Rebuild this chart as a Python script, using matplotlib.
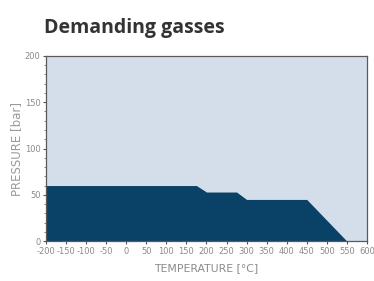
import matplotlib
matplotlib.use("Agg")
import matplotlib.pyplot as plt
from matplotlib.ticker import MultipleLocator

# Data
temperature = [-200, 175, 200, 275, 300, 450, 550]
pressure = [60, 60, 53, 53, 45, 45, 0]
x_ticks = list(range(-200, 601, 50))
y_ticks = [0, 50, 100, 150, 200]

title = "Demanding gasses"
x_label = "TEMPERATURE [°C]"
y_label = "PRESSURE [bar]"

dark = "#0a4267"
light = "#d4deea"
gray = "#8a8a8a"

fig = plt.figure(figsize=(3.74, 2.81), dpi=100)
ax = fig.add_axes([0.123, 0.142, 0.858, 0.659])
ax.set_facecolor(light)
ax.fill_between(temperature, pressure, 0, color=dark, linewidth=0)
ax.set_xlim(-200, 600)
ax.set_ylim(0, 200)
ax.set_xticks(x_ticks)
ax.set_yticks(y_ticks)
ax.yaxis.set_minor_locator(MultipleLocator(10))
fam = ["Liberation Sans Narrow", "DejaVu Sans"]
ax.set_xticklabels([str(v) for v in x_ticks], fontsize=6, color=gray, family=fam)
ax.set_yticklabels([str(v) for v in y_ticks], fontsize=6, color=gray, family=fam)
ax.tick_params(axis="both", which="major", length=2.5, width=0.8, color="#555555", pad=1.5)
ax.tick_params(axis="y", which="minor", length=1.5, width=0.5, color="#555555")
for s in ax.spines.values():
    s.set_color("#5a5a5a")
    s.set_linewidth(0.9)
ax.set_xlabel(x_label, fontsize=7.8, color=gray, family=fam, labelpad=5)
ax.set_ylabel(y_label, fontsize=8.5, color="#9a9a9a", family=fam, labelpad=1)
fig.text(0.118, 0.90, title, fontsize=14, fontweight="bold", color="#333333", family=["Open Sans", "DejaVu Sans"], va="center")
fig.savefig("out.png", dpi=100)
